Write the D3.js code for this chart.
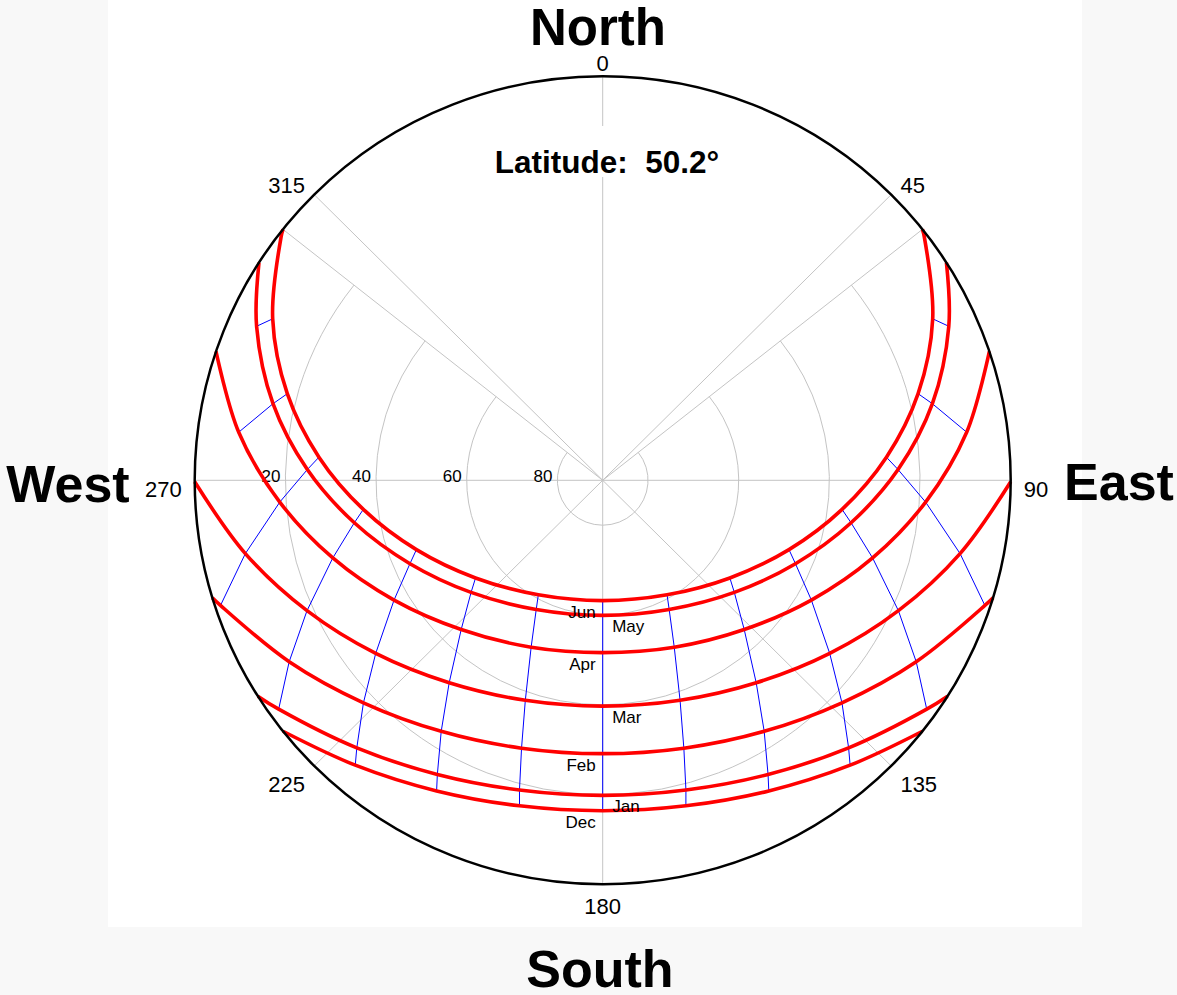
<!DOCTYPE html>
<html>
<head>
<meta charset="utf-8">
<title>Sun path chart</title>
<script src="https://cdn.jsdelivr.net/npm/d3@7"></script>
<style>
  html, body { margin: 0; padding: 0; background: #f8f8f8; }
  svg { display: block; font-family: "Liberation Sans", Arial, sans-serif; }
</style>
</head>
<body>
<div id="chart"></div>
<script>
// Sun position on the 21st of each month, solar time: [hour, azimuth, altitude]
// (first and last rows are sunrise / sunset, altitude 0)
const months = ["Jun", "May", "Apr", "Mar", "Feb", "Jan", "Dec"];

const sunJun = [[3.91, 51.6, 0], [4, 52.6, 0.7], [5, 63.7, 8.8], [6, 74.5, 17.8], [7, 85.3, 27.2], [8, 97.0, 36.8],
  [9, 110.6, 46.1], [10, 127.8, 54.5], [11, 150.9, 60.8], [12, 180, 63.2], [13, 209.1, 60.8], [14, 232.2, 54.5],
  [15, 249.4, 46.1], [16, 263.0, 36.8], [17, 274.7, 27.2], [18, 285.5, 17.8], [19, 296.3, 8.8], [20, 307.4, 0.7],
  [20.09, 308.4, 0]];
const sunMay = [[4.26, 57.4, 0], [5, 65.8, 6.3], [6, 76.8, 15.3], [7, 87.9, 24.8], [8, 99.8, 34.4], [9, 113.6, 43.6],
  [10, 130.7, 51.7], [11, 153.0, 57.7], [12, 180, 59.9], [13, 207.0, 57.7], [14, 229.3, 51.7], [15, 246.4, 43.6],
  [16, 260.2, 34.4], [17, 272.1, 24.8], [18, 283.2, 15.3], [19, 294.2, 6.3], [19.74, 302.6, 0]];
const sunApr = [[5.04, 71.4, 0], [6, 82.4, 9.0], [7, 93.9, 18.6], [8, 106.2, 28.0], [9, 120.1, 36.8], [10, 136.8, 44.4],
  [11, 157.0, 49.6], [12, 180, 51.6], [13, 203.0, 49.6], [14, 223.2, 44.4], [15, 239.9, 36.8], [16, 253.8, 28.0],
  [17, 266.1, 18.6], [18, 277.6, 9.0], [18.96, 288.6, 0]];
const sunMar = [[6.01, 90.2, 0], [7, 101.7, 9.5], [8, 114.0, 18.6], [9, 127.6, 26.8], [10, 143.1, 33.6], [11, 160.8, 38.1],
  [12, 180, 39.7], [13, 199.2, 38.1], [14, 216.9, 33.6], [15, 232.4, 26.8], [16, 246.0, 18.6], [17, 258.3, 9.5],
  [17.99, 269.8, 0]];
const sunFeb = [[6.87, 106.9, 0], [7, 108.3, 1.2], [8, 120.3, 9.9], [9, 133.2, 17.6], [10, 147.5, 23.7], [11, 163.3, 27.7],
  [12, 180, 29.1], [13, 196.7, 27.7], [14, 212.5, 23.7], [15, 226.8, 17.6], [16, 239.7, 9.9], [17, 251.7, 1.2],
  [17.13, 253.1, 0]];
const sunJan = [[7.73, 122.3, 0], [8, 125.5, 2.2], [9, 137.7, 9.4], [10, 150.9, 15.0], [11, 165.1, 18.6], [12, 180, 19.8],
  [13, 194.9, 18.6], [14, 209.1, 15.0], [15, 222.3, 9.4], [16, 234.5, 2.2], [16.27, 237.7, 0]];
const sunDec = [[8.09, 128.4, 0], [9, 139.3, 6.3], [10, 152.1, 11.7], [11, 165.8, 15.2], [12, 180, 16.4],
  [13, 194.2, 15.2], [14, 207.9, 11.7], [15, 220.7, 6.3], [15.91, 231.6, 0]];

const sunPaths = [sunJun, sunMay, sunApr, sunMar, sunFeb, sunJan, sunDec];

// hour lines drawn where at least two months have the sun up
const hourLines = [5, 6, 7, 8, 9, 10, 11, 12, 13, 14, 15, 16, 17, 18, 19];

const altRings = [20, 40, 60, 80];
const azTicks = [0, 45, 90, 135, 180, 225, 270, 315];
const compass = [["North", 0], ["East", 90], ["South", 180], ["West", 270]];
const latitude = 50.2;

const width = 1177, height = 995;
const cx = 602.7, cy = 480.3;

const svg = d3.select("#chart").append("svg")
  .attr("width", width)
  .attr("height", height);

// white plot panel on the light grey page
svg.append("rect")
  .attr("x", 108).attr("y", 0)
  .attr("width", 974).attr("height", 927)
  .attr("fill", "#fff");

// altitude 90 at centre, 0 on the rim (the plot is very slightly wider than tall)
const rX = d3.scaleLinear().domain([90, 0]).range([0, 408]);
const rY = d3.scaleLinear().domain([90, 0]).range([0, 404]);
const ang = d3.scaleLinear().domain([0, 360]).range([0, 2 * Math.PI]);

const px = (az, alt) => cx + rX(alt) * Math.sin(ang(az));
const py = (az, alt) => cy - rY(alt) * Math.cos(ang(az));

// June sunrise / sunset bearings bound the grid
const azRise = sunJun[0][1];
const azSet = sunJun[sunJun.length - 1][1];

const grid = svg.append("g").attr("class", "grid");

// altitude rings, only over the part of the sky the sun crosses
grid.selectAll("path")
  .data(altRings)
  .enter().append("path")
  .attr("d", d => `M${px(azRise, d)},${py(azRise, d)}` +
    `A${rX(d)},${rY(d)} 0 1 1 ${px(azSet, d)},${py(azSet, d)}`)
  .attr("fill", "none")
  .attr("stroke", "#c4c4c4")
  .attr("stroke-width", 1);

// azimuth spokes
const spokes = azTicks.concat([azRise, azSet]);
grid.selectAll("line")
  .data(spokes)
  .enter().append("line")
  .attr("x1", cx).attr("y1", cy)
  .attr("x2", d => px(d, 0)).attr("y2", d => py(d, 0))
  .attr("stroke", "#c4c4c4")
  .attr("stroke-width", 1);

// altitude labels on the west spoke
grid.selectAll("text")
  .data(altRings)
  .enter().append("text")
  .attr("x", d => px(270, d) - 5)
  .attr("y", cy + 1.5)
  .attr("text-anchor", "end")
  .attr("font-size", "17px")
  .attr("fill", "#000")
  .text(d => d);

// hour lines (blue)
const hourLine = d3.line()
  .x(d => px(d[1], d[2]))
  .y(d => py(d[1], d[2]));

const hourData = hourLines.map(h => sunPaths
  .map(p => p.find(d => d[0] === h))
  .filter(d => d));

svg.append("g").attr("class", "hours")
  .selectAll("path")
  .data(hourData)
  .enter().append("path")
  .attr("d", hourLine)
  .attr("fill", "none")
  .attr("stroke", "#0000ff")
  .attr("stroke-width", 1);

// daily sun paths (red)
const sunLine = d3.line()
  .x(d => px(d[1], d[2]))
  .y(d => py(d[1], d[2]))
  .curve(d3.curveCatmullRom.alpha(0.5));

svg.append("g").attr("class", "paths")
  .selectAll("path")
  .data(sunPaths)
  .enter().append("path")
  .attr("d", sunLine)
  .attr("fill", "none")
  .attr("stroke", "#ff0000")
  .attr("stroke-width", 3.6)
  .attr("stroke-linejoin", "round");

// month names just below the noon point, alternating sides
svg.append("g").attr("class", "months")
  .selectAll("text")
  .data(months)
  .enter().append("text")
  .attr("x", (d, i) => i % 2 === 0 ? cx - 7 : cx + 9.5)
  .attr("y", (d, i) => py(180, sunPaths[i].find(p => p[0] === 12)[2]) + 17)
  .attr("text-anchor", (d, i) => i % 2 === 0 ? "end" : "start")
  .attr("font-size", "17px")
  .attr("fill", "#000")
  .text(d => d);

// outer horizon ring
svg.append("ellipse")
  .attr("cx", cx).attr("cy", cy)
  .attr("rx", rX(0)).attr("ry", rY(0))
  .attr("fill", "none")
  .attr("stroke", "#000")
  .attr("stroke-width", 2.5);

// azimuth numbers outside the rim
const pad = 13;
svg.append("g").attr("class", "az-labels")
  .selectAll("text")
  .data(azTicks)
  .enter().append("text")
  .each(function(d) {
    const s = Math.sin(ang(d)), c = Math.cos(ang(d));
    d3.select(this)
      .attr("x", px(d, 0) + pad * s)
      .attr("y", py(d, 0) - pad * c)
      .attr("text-anchor", s > 0.3 ? "start" : s < -0.3 ? "end" : "middle")
      .attr("dy", c > 0.3 ? "0.35em" : "0.75em");
  })
  .attr("font-size", "22px")
  .attr("fill", "#000")
  .text(d => d);

// big compass words
const compassPos = {
  North: [598, 45], South: [600, 987], West: [68, 502], East: [1119, 500]
};
svg.append("g").attr("class", "compass")
  .selectAll("text")
  .data(compass)
  .enter().append("text")
  .attr("x", d => compassPos[d[0]][0])
  .attr("y", d => compassPos[d[0]][1])
  .attr("text-anchor", "middle")
  .attr("font-size", d => d[0] === "North" ? "51px" : "52px")
  .attr("font-weight", "bold")
  .attr("fill", "#000")
  .text(d => d[0]);

// latitude caption with a white backing that hides the north spoke
const latG = svg.append("g").attr("class", "latitude");
const latBox = latG.append("rect").attr("fill", "#fff");
const latText = latG.append("text")
  .attr("x", 607)
  .attr("y", 173)
  .attr("text-anchor", "middle")
  .attr("font-size", "31.5px")
  .attr("font-weight", "bold")
  .attr("fill", "#000")
  .text("Latitude:\u00a0 " + latitude.toFixed(1) + "\u00b0");
const bb = latText.node().getBBox();
latBox
  .attr("x", bb.x - 4).attr("y", 126)
  .attr("width", bb.width + 8).attr("height", 51);
</script>
</body>
</html>
